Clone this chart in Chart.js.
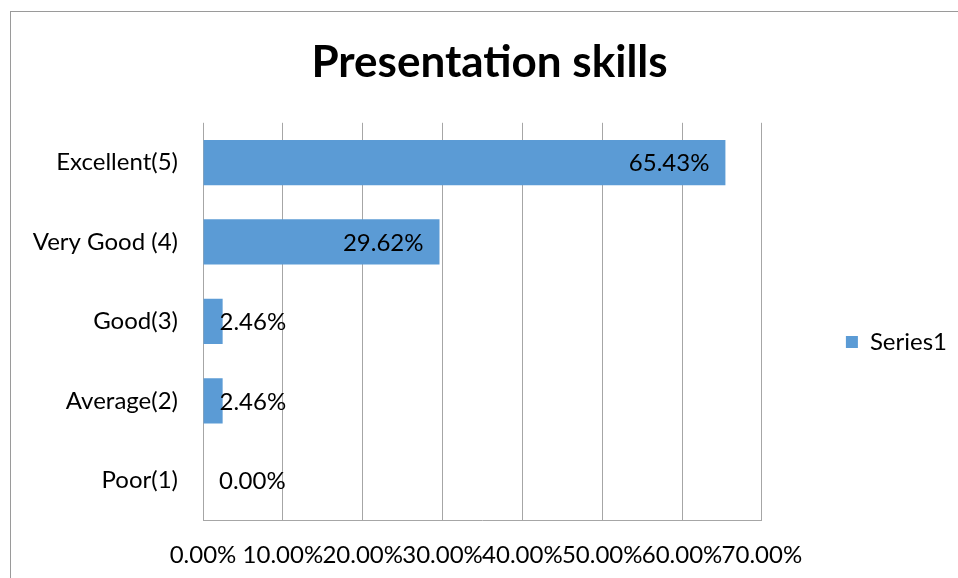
<!DOCTYPE html>
<html>
<head>
<meta charset="utf-8">
<title>Presentation skills</title>
<script src="https://cdn.jsdelivr.net/npm/chart.js@4/dist/chart.umd.min.js"></script>
<style>
  html, body { margin: 0; padding: 0; background: #fff; }
  canvas { display: block; }
</style>
</head>
<body>
<canvas id="grafico" width="958" height="578"></canvas>
<script>
// data
const categorias = ['Excellent(5)', 'Very Good (4)', 'Good(3)', 'Average(2)', 'Poor(1)'];
const valores = [65.43, 29.62, 2.46, 2.46, 0.00];
const serieNome = 'Series1';
const eixoMax = 70;
const eixoPasso = 10;

const fonte = 'Lato';
const tamanho = 24;
const cinza = '#a6a6a6';

// gray frame round the whole chart (it runs off the right/bottom edge)
const moldura = {
    id: 'moldura',
    beforeDraw(chart) {
        const ctx = chart.ctx;
        ctx.save();
        ctx.fillStyle = '#fff';
        ctx.fillRect(0, 0, chart.width, chart.height);
        ctx.strokeStyle = '#9a9a9a';
        ctx.lineWidth = 1;
        ctx.strokeRect(10.5, 11.5, chart.width + 20, chart.height + 20);
        ctx.restore();
    }
};

// value labels: inside the end when they fit, otherwise just past the base
const rotulos = {
    id: 'rotulos',
    afterDatasetsDraw(chart) {
        const ctx = chart.ctx;
        const meta = chart.getDatasetMeta(0);
        ctx.save();
        ctx.font = tamanho + 'px ' + fonte;
        ctx.fillStyle = '#000';
        ctx.textBaseline = 'middle';
        meta.data.forEach((bar, i) => {
            const txt = valores[i].toFixed(2) + '%';
            const w = ctx.measureText(txt).width;
            if (bar.x - bar.base > w + 34) {
                ctx.textAlign = 'right';
                ctx.fillText(txt, bar.x - 16, bar.y + 1);
            } else {
                ctx.textAlign = 'left';
                ctx.fillText(txt, bar.base + 16, bar.y + 1);
            }
        });
        ctx.restore();
    }
};

const grafico = document.getElementById('grafico').getContext('2d');
const myChart = new Chart(grafico, {
    type: 'bar',
    data: {
        labels: categorias,
        datasets: [{
            label: serieNome,
            data: valores,
            backgroundColor: '#5b9bd5',
            borderWidth: 0,
            categoryPercentage: 1,
            barPercentage: 0.57
        }]
    },
    options: {
        indexAxis: 'y',
        responsive: false,
        animation: false,
        devicePixelRatio: 1,
        layout: {
            padding: { top: 10, left: 22, right: 1, bottom: 0 }
        },
        scales: {
            x: {
                min: 0,
                max: eixoMax,
                grid: { color: cinza, drawTicks: false },
                border: { display: true, color: cinza },
                ticks: {
                    stepSize: eixoPasso,
                    autoSkip: false,
                    maxRotation: 0,
                    minRotation: 0,
                    padding: 21,
                    color: '#000',
                    font: { family: fonte, size: tamanho },
                    callback: (v) => Number(v).toFixed(2) + '%'
                },
                afterFit(scale) { scale.height = 58; }
            },
            y: {
                grid: { display: false, drawTicks: false },
                border: { display: false },
                ticks: {
                    padding: 25,
                    color: '#000',
                    font: { family: fonte, size: tamanho }
                },
                afterFit(scale) { scale.width = 181; }
            }
        },
        plugins: {
            title: {
                display: true,
                text: 'Presentation skills',
                color: '#000',
                font: { family: fonte, size: 44, weight: 'bold', lineHeight: 1.2 },
                padding: { top: 26, bottom: 34 }
            },
            legend: {
                display: true,
                position: 'right',
                title: {
                    display: true,
                    text: ' ',
                    font: { size: 10, lineHeight: 1 },
                    padding: { top: 86, bottom: 0 }
                },
                labels: {
                    boxWidth: 12,
                    boxHeight: 12,
                    padding: 84,
                    color: '#000',
                    font: { family: fonte, size: tamanho }
                }
            },
            tooltip: { enabled: false }
        }
    },
    plugins: [moldura, rotulos]
});
</script>
</body>
</html>
